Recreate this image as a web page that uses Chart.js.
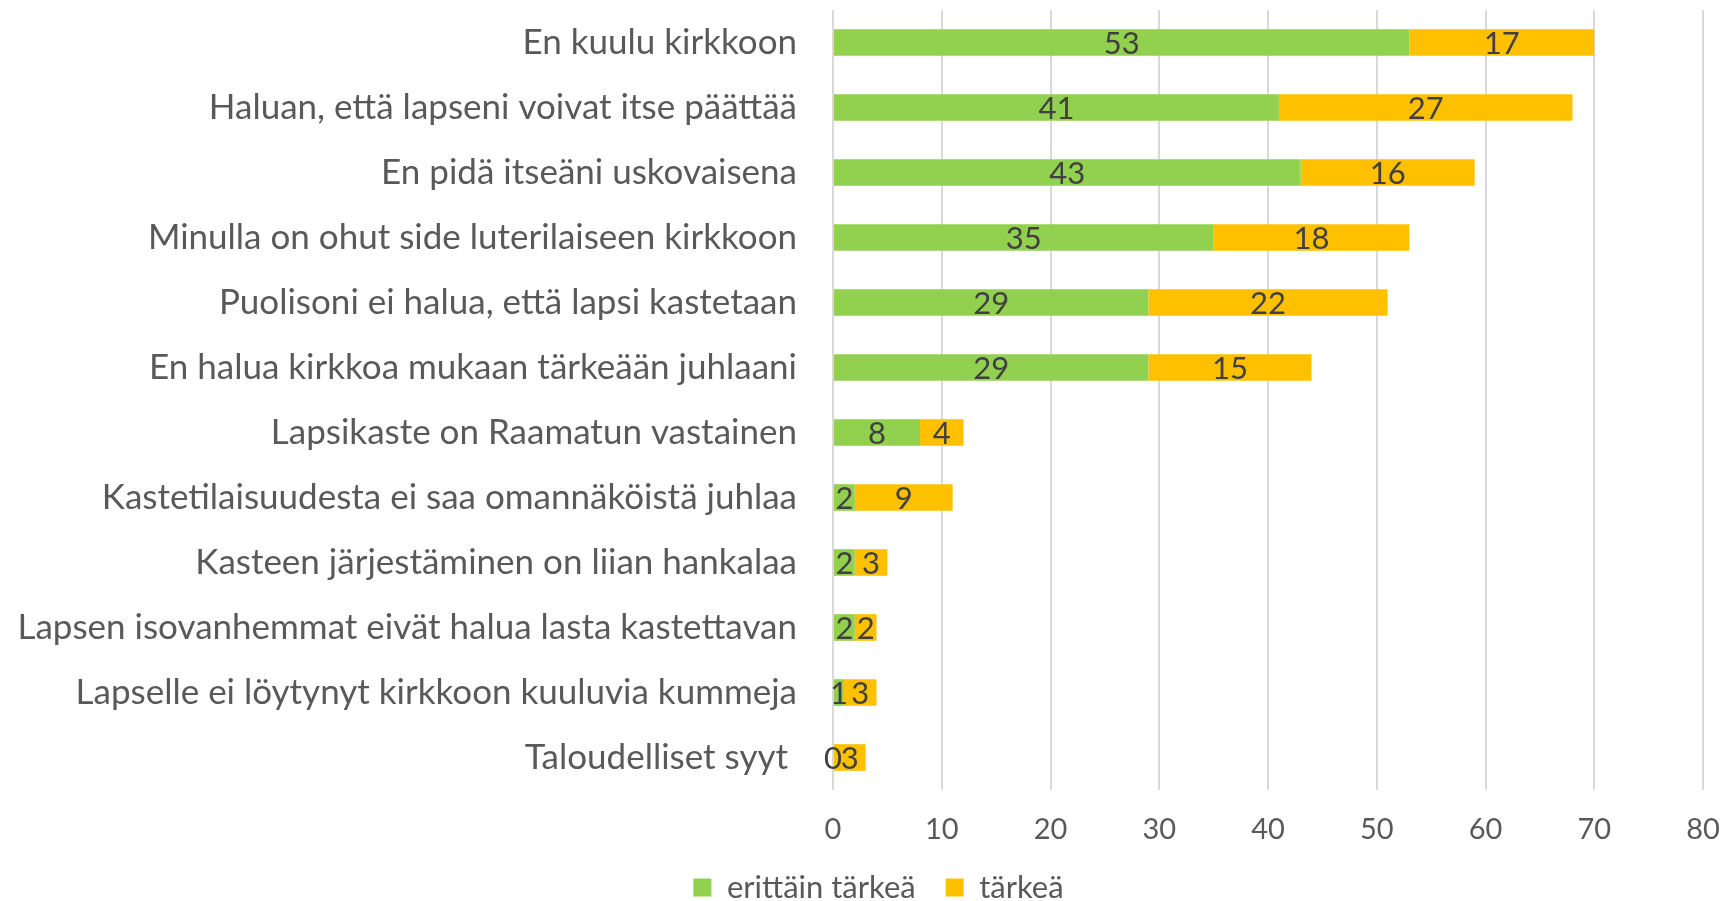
<!DOCTYPE html>
<html>
<head>
<meta charset="utf-8">
<script src="https://cdn.jsdelivr.net/npm/chart.js@4"></script>
<style>
  html, body { margin: 0; padding: 0; background: #fff; }
  #wrap { width: 1731px; height: 901px; }
</style>
</head>
<body>
<div id="wrap"><canvas id="chart" width="1731" height="901"></canvas></div>
<script>
const categories = [
    'En kuulu kirkkoon',
    'Haluan, että lapseni voivat itse päättää',
    'En pidä itseäni uskovaisena',
    'Minulla on ohut side luterilaiseen kirkkoon',
    'Puolisoni ei halua, että lapsi kastetaan',
    'En halua kirkkoa mukaan tärkeään juhlaani',
    'Lapsikaste on Raamatun vastainen',
    'Kastetilaisuudesta ei saa omannäköistä juhlaa',
    'Kasteen järjestäminen on liian hankalaa',
    'Lapsen isovanhemmat eivät halua lasta kastettavan',
    'Lapselle ei löytynyt kirkkoon kuuluvia kummeja',
    'Taloudelliset syyt '
];
const veryImportant = [53, 41, 43, 35, 29, 29, 8, 2, 2, 2, 1, 0];
const important = [17, 27, 16, 18, 22, 15, 4, 9, 3, 2, 3, 3];
const seriesNames = ['erittäin tärkeä', 'tärkeä'];
const xTicks = { min: 0, max: 80, step: 10 };

const FONT = 'Lato';

// draws the value in the middle of each bar segment
const barValues = {
    id: 'barValues',
    afterLayout(chart) {
        // let long category labels reach past the left padding without being clipped
        chart.scales.y.left = 0;
    },
    afterDatasetsDraw(chart) {
        const ctx = chart.ctx;
        ctx.save();
        ctx.font = '31px ' + FONT;
        ctx.fillStyle = '#404040';
        ctx.textAlign = 'center';
        ctx.textBaseline = 'middle';
        chart.data.datasets.forEach((ds, i) => {
            const meta = chart.getDatasetMeta(i);
            meta.data.forEach((bar, j) => {
                const p = bar.getProps(['x', 'y', 'base'], true);
                ctx.fillText(String(ds.data[j]), (p.x + p.base) / 2, p.y + 1);
            });
        });
        ctx.restore();
    }
};

new Chart(document.getElementById('chart').getContext('2d'), {
    type: 'bar',
    data: {
        labels: categories,
        datasets: [{
            label: seriesNames[0],
            data: veryImportant,
            backgroundColor: '#92D050',
        }, {
            label: seriesNames[1],
            data: important,
            backgroundColor: '#FFC000',
        }]
    },
    options: {
        indexAxis: 'y',
        responsive: false,
        animation: false,
        barPercentage: 0.41,
        categoryPercentage: 1,
        layout: { padding: { top: 10, right: 28, left: 54, bottom: -12 } },
        scales: {
            x: {
                stacked: true,
                min: xTicks.min,
                max: xTicks.max,
                ticks: {
                    stepSize: xTicks.step,
                    color: '#595959',
                    font: { family: FONT, size: 29 },
                    padding: 0,
                },
                grid: {
                    color: '#D9D9D9',
                    lineWidth: 2,
                    drawTicks: true,
                    tickLength: 22,
                    tickColor: 'rgba(0,0,0,0)'
                },
                border: { display: false },
                afterFit(scale) { scale.height = 52; }
            },
            y: {
                stacked: true,
                ticks: {
                    color: '#595959',
                    font: { family: FONT, size: 35, lineHeight: 0.5 },
                    padding: 0,
                    autoSkip: false,
                },
                grid: { display: false, drawTicks: true, tickLength: 36 },
                border: { display: false },
                afterFit(scale) { scale.width = 833 - 54; }
            }
        },
        plugins: {
            legend: {
                position: 'bottom',
                labels: {
                    color: '#595959',
                    font: { family: FONT, size: 31 },
                    boxWidth: 18,
                    boxHeight: 18,
                    padding: 30,
                }
            },
            tooltip: { enabled: false }
        }
    },
    plugins: [barValues]
});
</script>
</body>
</html>
